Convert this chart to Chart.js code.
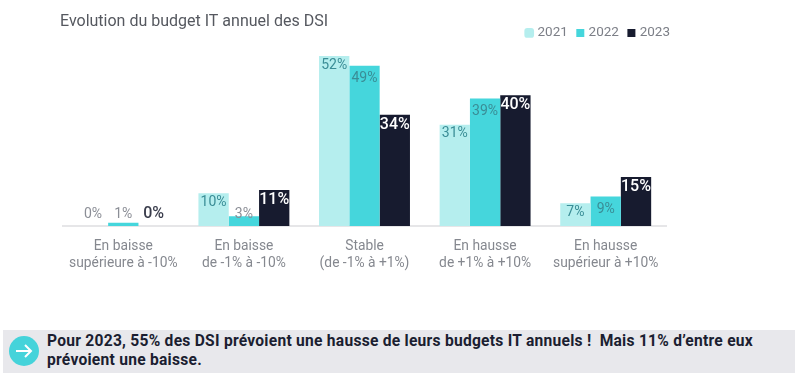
<!DOCTYPE html>
<html lang="fr">
<head>
<meta charset="utf-8">
<title>Evolution du budget IT annuel des DSI</title>
<script src="https://cdn.jsdelivr.net/npm/chart.js@4"></script>
<style>
    html, body { margin: 0; padding: 0; background: #fff; width: 795px; height: 375px; overflow: hidden; }
    #zoneGraphique { position: absolute; left: 0; top: 0; width: 795px; height: 290px; }
    #bandeau { position: absolute; left: 3px; top: 330px; width: 792px; height: 43px; background: #e8e8ec; }
    #bandeau svg { position: absolute; left: 6px; top: 6px; }
    #bandeau p {
        position: absolute; left: 44px; top: 2px; width: 716px; margin: 0;
        font: 700 15.6px/19px Roboto, sans-serif; letter-spacing: 0.25px; color: #1b1e31;
    }
</style>
</head>
<body>
<div id="zoneGraphique"><canvas id="budgetChart"></canvas></div>
<div id="bandeau">
    <svg width="30" height="30" viewBox="0 0 30 30">
        <circle cx="15" cy="15" r="15" fill="#45d3da"/>
        <path d="M7 15H22M16 9L22 15L16 21" fill="none" stroke="#fff" stroke-width="2"/>
    </svg>
    <p>Pour 2023, 55% des DSI prévoient une hausse de leurs budgets IT annuels !&nbsp; Mais 11% d’entre eux prévoient une baisse.</p>
</div>
<script>
const categories = [
    ['En baisse', 'supérieure à -10%'],
    ['En baisse', 'de -1% à -10%'],
    ['Stable', '(de -1% à +1%)'],
    ['En hausse', 'de +1% à +10%'],
    ['En hausse', 'supérieur à +10%']
];
const valeurs2021 = [0, 10, 52, 31, 7];
const valeurs2022 = [1, 3, 49, 39, 9];
const valeurs2023 = [0, 11, 34, 40, 15];

const couleur2021 = '#b5eeee';
const couleur2022 = '#45d6dc';
const couleur2023 = '#171b2f';

// Décalage de l'étiquette sous le haut de la barre, par série
const decalagesEtiquettes = [9, 12.5, 10];

// Etiquettes de valeur : dans la barre, ou au-dessus de l'axe pour les petites valeurs
const etiquettesBarres = {
    id: 'etiquettesBarres',
    afterDatasetsDraw(chart) {
        const ctx = chart.ctx;
        const base = chart.scales.y.getPixelForValue(0);
        ctx.save();
        ctx.textAlign = 'center';
        ctx.textBaseline = 'middle';
        chart.data.datasets.forEach((dataset, i) => {
            chart.getDatasetMeta(i).data.forEach((barre, j) => {
                const valeur = dataset.data[j];
                const petite = valeur < 5;
                const fonce = i === 2;
                ctx.font = fonce ? '500 16px Roboto, sans-serif' : '400 14px Roboto, sans-serif';
                if (fonce) {
                    ctx.fillStyle = petite ? '#3a3d4c' : '#ffffff';
                } else {
                    ctx.fillStyle = petite ? '#8b8e96' : '#3a8d96';
                }
                ctx.fillText(valeur + '%', barre.x, petite ? base - 12 : barre.y + decalagesEtiquettes[i]);
            });
        });
        ctx.restore();
    }
};

// La légende garde une faible hauteur malgré l'espacement de ses entrées,
// et le titre et la légende débordent légèrement de la zone de tracé
const recalageEntetes = {
    id: 'recalageEntetes',
    beforeLayout(chart) {
        const legende = chart.legend;
        if (!legende.fitOrigine) {
            legende.fitOrigine = legende.fit;
            legende.fit = function () {
                this.fitOrigine();
                this.height = 15;
            };
        }
    },
    afterLayout(chart) {
        chart.titleBlock.left -= 3;
        chart.titleBlock.right -= 3;
        chart.legend.left += 15;
        chart.legend.right += 15;
        chart.legend.top -= 16;
        chart.legend.bottom = chart.legend.top + 36;
    }
};

new Chart(document.getElementById('budgetChart').getContext('2d'), {
    type: 'bar',
    data: {
        labels: categories,
        datasets: [
            { label: '2021', data: valeurs2021, backgroundColor: couleur2021, pointStyle: 'rectRounded' },
            { label: '2022', data: valeurs2022, backgroundColor: couleur2022, pointStyle: 'rect' },
            { label: '2023', data: valeurs2023, backgroundColor: couleur2023, pointStyle: 'rect' }
        ]
    },
    plugins: [etiquettesBarres, recalageEntetes],
    options: {
        responsive: true,
        maintainAspectRatio: false,
        animation: false,
        layout: { padding: { left: 63, right: 129, top: 0, bottom: 14 } },
        datasets: { bar: { categoryPercentage: 0.754, barPercentage: 1 } },
        plugins: {
            tooltip: { enabled: false },
            title: {
                display: true,
                text: 'Evolution du budget IT annuel des DSI',
                align: 'start',
                color: '#55585f',
                font: { family: 'Roboto, sans-serif', size: 16, weight: '400' },
                padding: { top: 12, bottom: 0 }
            },
            legend: {
                display: true,
                position: 'top',
                align: 'end',
                labels: {
                    usePointStyle: true,
                    boxWidth: 3,
                    boxHeight: 8,
                    padding: 11,
                    color: '#7c7f87',
                    font: { family: 'Roboto, sans-serif', size: 13.5 }
                }
            }
        },
        scales: {
            y: { display: false, beginAtZero: true, min: 0, max: 55 },
            x: {
                grid: { display: false },
                border: { color: '#e6e6e8', width: 2 },
                ticks: {
                    color: '#85888f',
                    padding: 4,
                    maxRotation: 0,
                    autoSkip: false,
                    font: { family: 'Roboto, sans-serif', size: 13.8, lineHeight: 1.23 }
                }
            }
        }
    }
});
</script>
</body>
</html>
